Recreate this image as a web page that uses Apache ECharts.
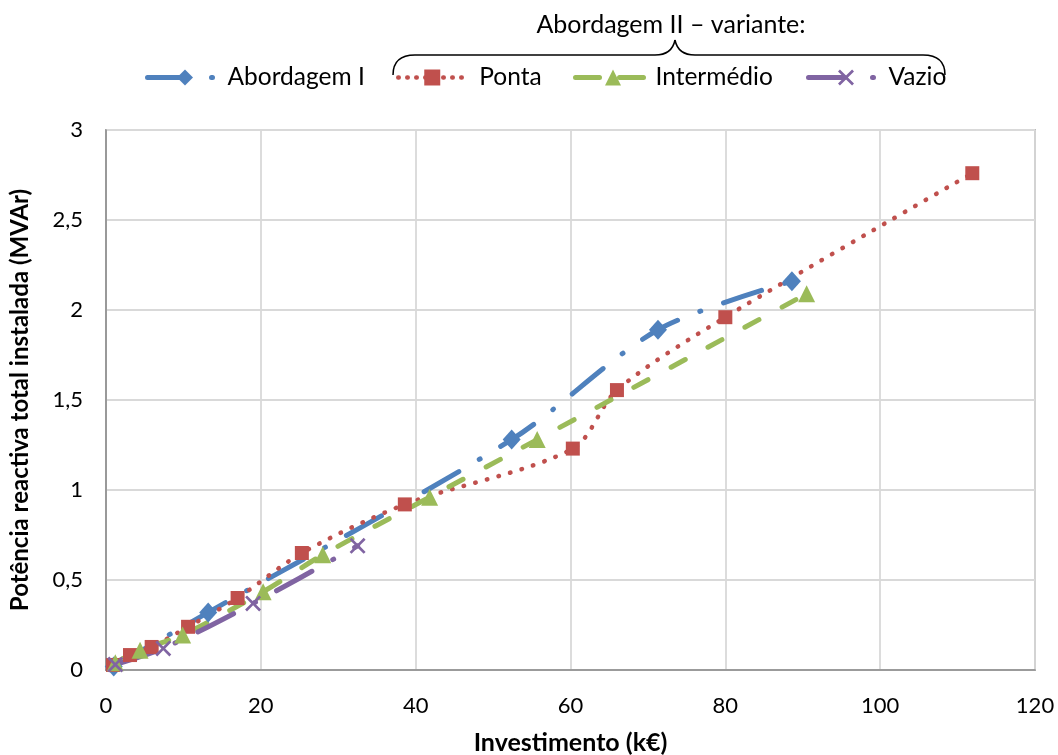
<!DOCTYPE html>
<html>
<head>
<meta charset="utf-8">
<script src="https://cdn.jsdelivr.net/npm/echarts@6/dist/echarts.min.js"></script>
<style>
html,body{margin:0;padding:0;background:#fff;}
#chart{width:1058px;height:755px;}
</style>
</head>
<body>
<div id="chart"></div>
<script>
// ---- data ----
const seriesNames = ['Abordagem I', 'Ponta', 'Intermédio', 'Vazio'];
const groupTitle = 'Abordagem II – variante:';
const xAxisTitle = 'Investimento (k€)';
const yAxisTitle = 'Potência reactiva total instalada (MVAr)';

const abordagemI_x = [1, 13.2, 52.4, 71.3, 88.6];
const abordagemI_y = [0.02, 0.32, 1.28, 1.89, 2.16];

const ponta_x = [0.9, 3.1, 5.9, 10.6, 17.0, 25.3, 38.6, 60.3, 66.0, 80.0, 111.9];
const ponta_y = [0.028, 0.083, 0.128, 0.24, 0.40, 0.65, 0.92, 1.23, 1.555, 1.96, 2.76];

const intermedio_x = [1.2, 4.4, 9.9, 20.3, 28.0, 41.8, 55.7, 90.5];
const intermedio_y = [0.04, 0.11, 0.195, 0.435, 0.64, 0.96, 1.28, 2.09];

const vazio_x = [1.2, 7.4, 19.0, 32.5];
const vazio_y = [0.03, 0.12, 0.37, 0.69];

const xTicks = {min: 0, max: 120, interval: 20};
const yTicks = {min: 0, max: 3, interval: 0.5};

function pairs(xs, ys) { return xs.map((x, i) => [x, ys[i]]); }

const FONT = 'Lato';
const colors = ['#4F81BD', '#C0504D', '#9BBB59', '#8064A2'];
const xSymbol = 'path://M0,1.2L1.2,0L5,3.8L8.8,0L10,1.2L6.2,5L10,8.8L8.8,10L5,6.2L1.2,10L0,8.8L3.8,5Z';
const dashDot = [40, 24, 1, 24];

const chart = echarts.init(document.getElementById('chart'), null, {renderer: 'canvas'});

const legendBase = {
  orient: 'horizontal', top: 65, itemWidth: 75, itemHeight: 20, itemGap: 6,
  textStyle: {fontFamily: FONT, fontSize: 24.5, color: '#000'}, padding: 0
};

const braceStyle = {fill: 'none', stroke: '#000', lineWidth: 1.5};

chart.setOption({
  animation: false,
  backgroundColor: '#fff',
  color: colors,
  grid: {left: 106, right: 23, top: 130, bottom: 85, containLabel: false, outerBoundsMode: 'none',
         show: true, borderColor: '#868686', borderWidth: 1.5, backgroundColor: 'transparent'},
  legend: [
    Object.assign({}, legendBase, {left: 145, data: [seriesNames[0]],
      lineStyle: {width: 5, type: dashDot, cap: 'round'}}),
    Object.assign({}, legendBase, {left: 396, itemWidth: 68, data: [seriesNames[1]],
      textStyle: Object.assign({}, legendBase.textStyle, {padding: [0, 0, 0, 8]}),
      lineStyle: {width: 4.5, type: [0.5, 8.5], cap: 'round'}}),
    Object.assign({}, legendBase, {left: 573, data: [seriesNames[2]],
      lineStyle: {width: 5, type: [24, 20], cap: 'round'}}),
    Object.assign({}, legendBase, {left: 806, data: [seriesNames[3]],
      lineStyle: {width: 5, type: [36, 28, 1, 24], cap: 'round'}})
  ],
  graphic: [
    {type: 'text', style: {text: groupTitle, x: 671, y: 12, textAlign: 'center', textVerticalAlign: 'top', fontFamily: FONT, fontSize: 25, fill: '#000'}},
    {type: 'bezierCurve', shape: {x1: 393, y1: 75, x2: 415, y2: 55, cpx1: 393, cpy1: 55}, style: braceStyle},
    {type: 'line', shape: {x1: 415, y1: 55, x2: 655, y2: 55}, style: braceStyle},
    {type: 'bezierCurve', shape: {x1: 655, y1: 55, x2: 675, y2: 40, cpx1: 672, cpy1: 55}, style: braceStyle},
    {type: 'bezierCurve', shape: {x1: 675, y1: 40, x2: 695, y2: 55, cpx1: 678, cpy1: 55}, style: braceStyle},
    {type: 'line', shape: {x1: 695, y1: 55, x2: 923, y2: 55}, style: braceStyle},
    {type: 'bezierCurve', shape: {x1: 923, y1: 55, x2: 945, y2: 75, cpx1: 945, cpy1: 55}, style: braceStyle}
  ],
  xAxis: {
    type: 'value', min: xTicks.min, max: xTicks.max, interval: xTicks.interval,
    name: xAxisTitle, nameLocation: 'middle', nameGap: 60,
    nameTextStyle: {fontFamily: FONT, fontSize: 25, fontWeight: 'bold', color: '#000'},
    axisLine: {show: true, lineStyle: {color: '#868686', width: 1.5}},
    axisTick: {show: false},
    axisLabel: {fontFamily: FONT, fontSize: 22, color: '#000', margin: 25},
    splitLine: {show: true, lineStyle: {color: '#D9D9D9', width: 1.8}}
  },
  yAxis: {
    type: 'value', min: yTicks.min, max: yTicks.max, interval: yTicks.interval,
    name: yAxisTitle, nameLocation: 'middle', nameGap: 74, nameRotate: 90,
    nameTextStyle: {fontFamily: FONT, fontSize: 24, fontWeight: 'bold', color: '#000'},
    axisLine: {show: true, lineStyle: {color: '#868686', width: 1.5}},
    axisTick: {show: false},
    axisLabel: {fontFamily: FONT, fontSize: 22, color: '#000', margin: 23,
      formatter: v => String(v).replace('.', ',')},
    splitLine: {show: true, lineStyle: {color: '#D9D9D9', width: 1.8}}
  },
  series: [
    {name: seriesNames[0], type: 'line', data: pairs(abordagemI_x, abordagemI_y), smooth: 0.3,
     symbol: 'diamond', symbolSize: [18, 20],
     itemStyle: {color: colors[0]},
     lineStyle: {color: colors[0], width: 5, type: dashDot, cap: 'round'}},
    {name: seriesNames[1], type: 'line', data: pairs(ponta_x, ponta_y), smooth: 0.3,
     symbol: 'rect', symbolSize: 14,
     itemStyle: {color: colors[1]},
     lineStyle: {color: colors[1], width: 4.5, type: [0.5, 11.5], cap: 'round'}},
    {name: seriesNames[2], type: 'line', data: pairs(intermedio_x, intermedio_y), smooth: 0.3,
     symbol: 'triangle', symbolSize: 17,
     itemStyle: {color: colors[2]},
     lineStyle: {color: colors[2], width: 5, type: [16, 26], cap: 'round'}},
    {name: seriesNames[3], type: 'line', data: pairs(vazio_x, vazio_y), smooth: 0.3,
     symbol: xSymbol, symbolSize: 16,
     itemStyle: {color: colors[3]},
     lineStyle: {color: colors[3], width: 5, type: dashDot, cap: 'round'}}
  ]
});
</script>
</body>
</html>
